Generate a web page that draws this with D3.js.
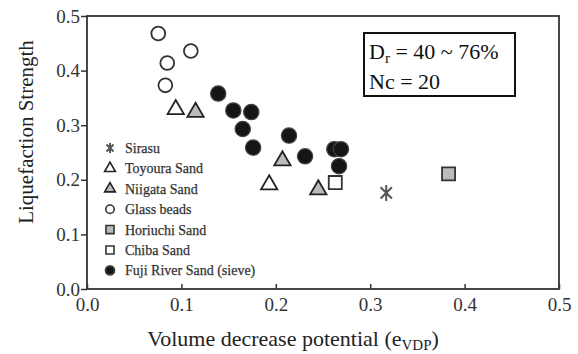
<!DOCTYPE html>
<html>
<head>
<meta charset="utf-8">
<script src="https://cdn.jsdelivr.net/npm/d3@7"></script>
<style>
  body { margin: 0; background: #fff; }
  svg text { font-family: "Liberation Serif", "Times New Roman", serif !important; }
</style>
</head>
<body>
<svg width="578" height="354"></svg>
<script>
// values
var sirasuX = [0.317], sirasuY = [0.176];
var toyouraX = [0.094, 0.193], toyouraY = [0.329, 0.191];
var niigataX = [0.115, 0.207, 0.245], niigataY = [0.324, 0.235, 0.182];
var glassX = [0.0755, 0.110, 0.085, 0.083], glassY = [0.468, 0.436, 0.414, 0.373];
var horiuchiX = [0.383], horiuchiY = [0.211];
var chibaX = [0.263], chibaY = [0.195];
var fujiX = [0.139, 0.155, 0.174, 0.165, 0.176, 0.214, 0.231, 0.262, 0.269, 0.267];
var fujiY = [0.358, 0.327, 0.324, 0.293, 0.259, 0.281, 0.243, 0.256, 0.256, 0.225];
var tickVals = [0, 0.1, 0.2, 0.3, 0.4, 0.5];

var svg = d3.select("svg");
var x = d3.scaleLinear().domain([0, 0.5]).range([87, 559]);
var y = d3.scaleLinear().domain([0, 0.5]).range([289, 16]);

// axes
var xAxis = d3.axisBottom(x).tickValues(tickVals).tickFormat(d3.format(".1f"))
  .tickSizeInner(-5).tickSizeOuter(0).tickPadding(9);
var yAxis = d3.axisLeft(y).tickValues(tickVals).tickFormat(d3.format(".1f"))
  .tickSizeInner(6).tickSizeOuter(0).tickPadding(1);

var gx = svg.append("g").attr("transform", "translate(0,289)").call(xAxis);
var gy = svg.append("g").attr("transform", "translate(87,0)").call(yAxis);
[gx, gy].forEach(function(g) {
  g.attr("font-family", null).attr("font-size", null);
  g.select(".domain").remove();
  g.selectAll("line").attr("stroke", "#333").attr("stroke-width", 1.5);
  g.selectAll("text").style("font-size", "19px").attr("fill", "#333");
});

svg.append("rect").attr("x", 87).attr("y", 16).attr("width", 472).attr("height", 273)
  .attr("fill", "none").attr("stroke", "#333").attr("stroke-width", 1.8);

// titles
svg.append("text").attr("transform", "translate(33,132) rotate(-90)")
  .attr("text-anchor", "middle").attr("font-size", 21).attr("fill", "#222")
  .text("Liquefaction Strength");
var xt = svg.append("text").attr("x", 293).attr("y", 346)
  .attr("text-anchor", "middle").attr("font-size", 22).attr("fill", "#222");
xt.append("tspan").text("Volume decrease potential (e");
xt.append("tspan").attr("font-size", 15).attr("dy", 4).text("VDP");
xt.append("tspan").attr("dy", -4).text(")");

// condition box
svg.append("rect").attr("x", 364).attr("y", 33).attr("width", 151).attr("height", 63)
  .attr("fill", "#fff").attr("stroke", "#111").attr("stroke-width", 2);
var t1 = svg.append("text").attr("x", 369).attr("y", 59).attr("font-size", 22).attr("fill", "#111");
t1.append("tspan").text("D");
t1.append("tspan").attr("font-size", 15).attr("dy", 4).text("r");
t1.append("tspan").attr("dy", -4).text(" = 40 ~ 76%");
svg.append("text").attr("x", 369).attr("y", 89).attr("font-size", 22).attr("fill", "#111")
  .text("Nc = 20");

// marker drawing
function tri(s) { return d3.symbol().type(d3.symbolTriangle).size(s)(); }
function sq(s) { return d3.symbol().type(d3.symbolSquare).size(s)(); }
function circ(s) { return d3.symbol().type(d3.symbolCircle).size(s)(); }
function star(r) {
  var a = r * Math.cos(Math.PI / 4);
  return "M0," + (-r) + "L0," + r + "M" + (-a) + "," + (-a) + "L" + a + "," + a +
    "M" + a + "," + (-a) + "L" + (-a) + "," + a;
}

var series = [
  { name: "Sirasu", xs: sirasuX, ys: sirasuY, path: star(8), lpath: star(5), fill: "none", stroke: "#555", sw: 2 },
  { name: "Toyoura Sand", xs: toyouraX, ys: toyouraY, path: tri(115), lpath: tri(50), fill: "#fff", stroke: "#222", sw: 1.8 },
  { name: "Niigata Sand", xs: niigataX, ys: niigataY, path: tri(115), lpath: tri(50), fill: "#bbb", stroke: "#222", sw: 1.8 },
  { name: "Glass beads", xs: glassX, ys: glassY, path: circ(150), lpath: circ(55), fill: "#fff", stroke: "#333", sw: 1.8 },
  { name: "Horiuchi Sand", xs: horiuchiX, ys: horiuchiY, path: sq(170), lpath: sq(65), fill: "#bbb", stroke: "#333", sw: 1.8 },
  { name: "Chiba Sand", xs: chibaX, ys: chibaY, path: sq(170), lpath: sq(65), fill: "#fff", stroke: "#333", sw: 1.8 },
  { name: "Fuji River Sand (sieve)", xs: fujiX, ys: fujiY, path: circ(185), lpath: circ(65), fill: "#151515", stroke: "#444", sw: 1.2 }
];

series.forEach(function(s) {
  svg.append("g").selectAll("path").data(s.xs).enter().append("path")
    .attr("transform", function(d, i) { return "translate(" + x(d) + "," + y(s.ys[i]) + ")"; })
    .attr("d", s.path).attr("fill", s.fill).attr("stroke", s.stroke).attr("stroke-width", s.sw);
});

// legend
var leg = svg.append("g").attr("transform", "translate(110,148)");
series.forEach(function(s, i) {
  var row = leg.append("g").attr("transform", "translate(0," + (i * 20.4) + ")");
  row.append("path").attr("d", s.lpath).attr("fill", s.fill).attr("stroke", s.stroke)
    .attr("stroke-width", s.name === "Sirasu" ? 2 : 1.6);
  row.append("text").attr("x", 15).attr("y", 5).attr("font-size", 14).attr("fill", "#333")
    .attr("stroke", "#333").attr("stroke-width", 0.25)
    .text(s.name);
});
</script>
</body>
</html>
